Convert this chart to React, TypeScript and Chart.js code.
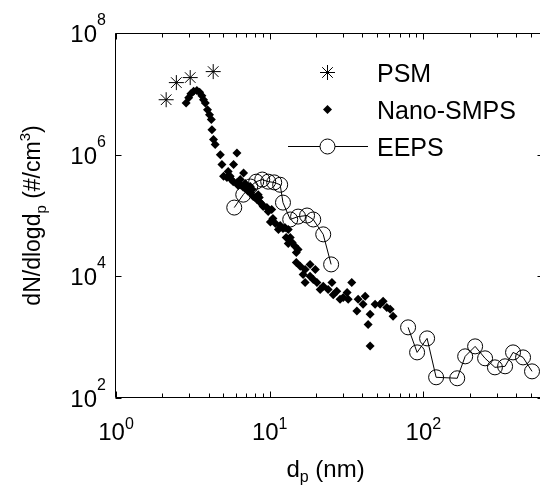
import React, { useEffect, useRef } from 'react';
import { Chart, registerables } from 'chart.js';

Chart.register(...registerables);

// ---------- data ----------
const psmD = [2.12, 2.47, 3.04, 4.29];
const psmN = [8.0e6, 1.53e7, 1.85e7, 2.32e7];

const smpsD = [
  2.86, 2.97, 3.07, 3.2, 3.36, 3.5, 3.62, 3.71, 3.81, 3.94, 4.06, 4.17, 4.21, 4.31, 4.42,
  4.77, 6.12, 4.89, 5.82, 5.01, 5.27, 5.53, 6.76, 5.79, 6.12, 6.43, 6.73, 7.11, 7.47, 7.81,
  8.26, 8.68, 9.07, 9.59, 10.3, 6.43, 7.47, 8.42,
  5.37, 5.62, 6.24, 6.93, 7.25, 7.7, 8.05, 8.55, 8.94, 9.78,
  10.1, 10.9, 11.7, 12.6, 13.2, 13.6, 13.2, 14.6, 15.3,
  10.5, 12.2, 11.4, 14.0, 12.8, 14.9,
  15.8, 17.0, 18.3, 19.8, 17.0, 20.3, 22.3, 25.4, 27.3, 30.1, 34.2, 37.6, 41.8, 36.9, 45.0,
  43.7, 45.0, 52.3, 57.8, 63.5, 18.3, 24.0, 32.4, 54.7,
  14.9, 16.5, 19.2, 21.3, 25.9, 28.7, 31.9, 40.5, 48.5, 60.8,
];
const smpsN = [
  7.1e6, 8.6e6, 1.0e7, 1.1e7, 1.13e7, 1.06e7, 9.3e6, 8.0e6, 7.1e6, 5.5e6, 4.55e6, 3.77e6, 2.58e6, 1.77e6, 1.47e6,
  1.0e6, 1.07e6, 6.9e5, 6.9e5, 4.4e5, 4.2e5, 4.4e5, 5.0e5, 3.6e5, 3.44e5, 3.2e5, 2.9e5, 2.67e5, 2.39e5, 2.05e5,
  1.83e5, 1.63e5, 1.41e5, 1.35e5, 1.26e5, 3.9e5, 3.0e5, 2.2e5,
  5.3e5, 3.9e5, 3.1e5, 3.35e5, 2.48e5, 2.67e5, 1.98e5, 1.98e5, 1.52e5, 1.16e5,
  7.8e4, 7.4e4, 6.85e4, 6.3e4, 5.9e4, 4.35e4, 3.47e4, 3.13e4, 2.77e4,
  8.9e4, 6.1e4, 5.9e4, 3.6e4, 4.35e4, 2.47e4,
  1.47e4, 1.3e4, 1.57e4, 1.3e4, 7.9e3, 7.9e3, 6.9e3, 7.9e3, 5.7e3, 4.5e3, 7.9e3, 4.2e3, 4.7e3, 2.7e3, 2.37e3,
  1.62e3, 715, 3.46e3, 3.08e3, 2.2e3, 1.0e4, 6.1e3, 4.2e3, 3.9e3,
  1.69e4, 1.07e4, 8.9e3, 6.1e3, 5.0e3, 4.2e3, 5.4e3, 3.46e3, 3.46e3, 2.87e3,
];

const eepsD = [
  5.88, 6.73, 7.47, 8.17, 8.94, 9.78, 10.7, 11.7, 12.2, 13.6, 15.3, 17.5, 19.2, 22.3, 25.1,
  45,
  79.5, 91, 105.7, 121, 166, 187, 217, 252, 292, 340, 383, 445, 509,
];
const eepsN: (number | null)[] = [
  1.35e5, 2.2e5, 3.0e5, 3.6e5, 3.9e5, 3.6e5, 3.5e5, 3.2e5, 1.63e5, 8.6e4, 9.6e4, 1.0e5, 8.6e4, 4.9e4, 1.57e4,
  null,
  1450, 562, 955, 219, 211, 484, 706, 449, 319, 332, 562, 465, 274,
];

const xMin = 1;
const xMax = 600;
const yMin = 1e2;
const yMax = 1e8;
const xMajorExps = [0, 1, 2];
const yMajorExps = [2, 4, 6, 8];
const legendLabels = ['PSM', 'Nano-SMPS', 'EEPS'];
const xTitleMain = 'd';
const xTitleSub = 'p';
const xTitleRest = ' (nm)';
const yTitleParts = ['dN/dlogd', 'p', ' (#/cm', '3', ')'];

// ---------- drawing helpers ----------
const FONT = '"Liberation Sans", Arial, Helvetica, sans-serif';

function drawStar(ctx: CanvasRenderingContext2D, x: number, y: number, r: number) {
  ctx.beginPath();
  for (let k = 0; k < 4; k++) {
    const a = (k * Math.PI) / 4;
    ctx.moveTo(x + Math.cos(a) * r, y + Math.sin(a) * r);
    ctx.lineTo(x - Math.cos(a) * r, y - Math.sin(a) * r);
  }
  ctx.stroke();
}

function drawDiamond(ctx: CanvasRenderingContext2D, x: number, y: number, r: number) {
  ctx.beginPath();
  ctx.moveTo(x, y - r);
  ctx.lineTo(x + r, y);
  ctx.lineTo(x, y + r);
  ctx.lineTo(x - r, y);
  ctx.closePath();
  ctx.fill();
}

const matlabAxes = {
  id: 'matlabAxes',
  afterDraw(chart: any) {
    const ctx: CanvasRenderingContext2D = chart.ctx;
    const xs = chart.scales.x;
    const ys = chart.scales.y;
    const { left, right, top, bottom } = chart.chartArea;
    ctx.save();
    ctx.strokeStyle = '#000';
    ctx.fillStyle = '#000';
    ctx.lineWidth = 1;

    // box
    const L = Math.round(left) - 0.5;
    const R = Math.round(right) + 0.5;
    const T = Math.round(top) + 0.5;
    const B = Math.round(bottom) - 0.5;
    ctx.beginPath();
    ctx.moveTo(L, T);
    ctx.lineTo(R, T);
    ctx.lineTo(R, B);
    ctx.lineTo(L, B);
    ctx.closePath();
    ctx.stroke();

    // x ticks (major + minor) on bottom and top
    ctx.beginPath();
    for (let e = 0; e <= 2; e++) {
      for (let m = 1; m <= 9; m++) {
        const v = m * Math.pow(10, e);
        if (v < xMin || v > xMax) continue;
        const px = Math.round(xs.getPixelForValue(v)) + 0.5;
        const len = m === 1 ? 6 : 4;
        ctx.moveTo(px, B);
        ctx.lineTo(px, B - len);
        ctx.moveTo(px, T);
        ctx.lineTo(px, T + len);
      }
    }
    // y major ticks on left and right
    for (const e of yMajorExps) {
      const py = Math.round(ys.getPixelForValue(Math.pow(10, e))) + 0.5;
      ctx.moveTo(L, py);
      ctx.lineTo(L + 6, py);
      ctx.moveTo(R, py);
      ctx.lineTo(R - 6, py);
    }
    ctx.stroke();

    // y tick labels
    ctx.textBaseline = 'alphabetic';
    for (const e of yMajorExps) {
      const py = ys.getPixelForValue(Math.pow(10, e));
      ctx.font = `24px ${FONT}`;
      ctx.textAlign = 'right';
      ctx.fillText('10', 97, py + 9);
      ctx.font = `16px ${FONT}`;
      ctx.textAlign = 'left';
      ctx.fillText(String(e), 97, py - 8);
    }

    // x tick labels
    for (const e of xMajorExps) {
      const px = xs.getPixelForValue(Math.pow(10, e));
      ctx.font = `24px ${FONT}`;
      const w10 = ctx.measureText('10').width;
      ctx.font = `16px ${FONT}`;
      const ws = ctx.measureText(String(e)).width;
      const start = px - (w10 + ws) / 2;
      ctx.textAlign = 'left';
      ctx.font = `24px ${FONT}`;
      ctx.fillText('10', start, 440);
      ctx.font = `16px ${FONT}`;
      ctx.fillText(String(e), start + w10, 429);
    }

    // x title
    {
      ctx.textAlign = 'left';
      ctx.font = `24px ${FONT}`;
      const w1 = ctx.measureText(xTitleMain).width;
      const w3 = ctx.measureText(xTitleRest).width;
      ctx.font = `16px ${FONT}`;
      const w2 = ctx.measureText(xTitleSub).width;
      const cx = (left + right) / 2 - 4;
      let x = cx - (w1 + w2 + w3) / 2;
      const base = 477;
      ctx.font = `24px ${FONT}`;
      ctx.fillText(xTitleMain, x, base);
      x += w1;
      ctx.font = `16px ${FONT}`;
      ctx.fillText(xTitleSub, x, base + 5);
      x += w2;
      ctx.font = `24px ${FONT}`;
      ctx.fillText(xTitleRest, x, base);
    }

    // y title (rotated)
    {
      const fonts = [23, 15, 23, 15, 23];
      const shifts = [0, 6, 0, -10, 0];
      const widths = yTitleParts.map((t, i) => {
        ctx.font = `${fonts[i]}px ${FONT}`;
        return ctx.measureText(t).width;
      });
      const total = widths.reduce((a, b) => a + b, 0);
      ctx.save();
      ctx.translate(40, (top + bottom) / 2);
      ctx.rotate(-Math.PI / 2);
      ctx.textAlign = 'left';
      let x = -total / 2;
      yTitleParts.forEach((t, i) => {
        ctx.font = `${fonts[i]}px ${FONT}`;
        ctx.fillText(t, x, shifts[i]);
        x += widths[i];
      });
      ctx.restore();
    }

    // legend
    {
      const mx = 327.5;
      const tx = 377;
      const rows = [72.5, 109.5, 146.5];
      ctx.lineWidth = 1;
      drawStar(ctx, mx, rows[0], 7.5);
      drawDiamond(ctx, mx, rows[1], 4.5);
      ctx.beginPath();
      ctx.moveTo(288, rows[2]);
      ctx.lineTo(368, rows[2]);
      ctx.stroke();
      ctx.fillStyle = '#fff';
      ctx.beginPath();
      ctx.arc(mx, rows[2], 7.5, 0, Math.PI * 2);
      ctx.fill();
      ctx.stroke();
      ctx.fillStyle = '#000';
      ctx.font = `25px ${FONT}`;
      ctx.textAlign = 'left';
      legendLabels.forEach((lab, i) => {
        ctx.fillText(lab, tx, rows[i] + 9);
      });
    }
    ctx.restore();
  },
};

export default function App() {
  const ref = useRef<HTMLCanvasElement | null>(null);

  useEffect(() => {
    if (!ref.current) return;
    const toPts = (xs: number[], ys: (number | null)[]) => xs.map((x, i) => ({ x, y: ys[i] }));
    const chart = new Chart(ref.current, {
      type: 'scatter',
      data: {
        datasets: [
          {
            label: 'Nano-SMPS',
            data: toPts(smpsD, smpsN),
            pointStyle: 'rectRot',
            pointRadius: 4.5,
            backgroundColor: '#000',
            borderColor: '#000',
            borderWidth: 0,
            showLine: false,
          },
          {
            label: 'EEPS',
            data: toPts(eepsD, eepsN),
            pointStyle: 'circle',
            pointRadius: 7.5,
            pointBackgroundColor: 'rgba(0,0,0,0)',
            pointBorderColor: '#000',
            pointBorderWidth: 1,
            borderColor: '#000',
            borderWidth: 1,
            showLine: true,
            spanGaps: false,
          },
          {
            label: 'PSM',
            data: toPts(psmD, psmN),
            pointStyle: 'star',
            pointRadius: 7.5,
            borderColor: '#000',
            backgroundColor: '#000',
            borderWidth: 1,
            showLine: false,
          },
        ] as any,
      },
      options: {
        animation: false,
        responsive: false,
        devicePixelRatio: 1,
        layout: { padding: { left: 116, top: 33, right: 560 - 543, bottom: 486 - 398 } },
        plugins: { legend: { display: false }, tooltip: { enabled: false }, title: { display: false } },
        scales: {
          x: { type: 'logarithmic', min: xMin, max: xMax, display: false },
          y: { type: 'logarithmic', min: yMin, max: yMax, display: false },
        },
        events: [],
      } as any,
      plugins: [matlabAxes],
    });
    return () => chart.destroy();
  }, []);

  return (
    <div
      style={{
        position: 'fixed',
        left: 0,
        top: 0,
        width: 540,
        height: 486,
        overflow: 'hidden',
        background: '#fff',
      }}
    >
      <canvas ref={ref} width={560} height={486} style={{ display: 'block', width: 560, height: 486 }} />
    </div>
  );
}
